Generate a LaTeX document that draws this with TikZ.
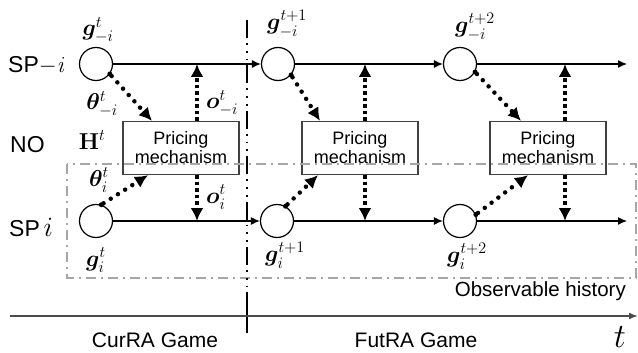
\RequirePackage{fix-cm}
\documentclass[tikz,border=0pt]{standalone}
\usepackage[no-math]{fontspec}
\setmainfont{Liberation Sans}
\usepackage{amsmath,bm}
\usetikzlibrary{arrows.meta}

\begin{document}
\begin{tikzpicture}[x=1pt,y=-1pt,
  lbl/.style={font=\fontsize{23}{25}\selectfont,inner sep=0},
  game/.style={font=\fontsize{21}{23}\selectfont,inner sep=0},
  mth/.style={font=\fontsize{23}{25}\selectfont,inner sep=0},
  st/.style={circle,draw,line width=1.2pt,minimum size=33pt,inner sep=0},
  pm/.style={draw=black!75,fill=white,line width=1.3pt,minimum width=116pt,
    minimum height=53pt,align=center,inner sep=0,
    font=\fontsize{18}{19}\selectfont},
  flow/.style={line width=1.2pt,-{Latex[length=9pt,width=8pt]}},
  vdot/.style={line width=4pt,dash pattern=on 3.5pt off 3pt,
    -{Latex[length=13pt,width=13pt]}},
  ddot/.style={line width=4.5pt,line cap=round,dash pattern=on 0pt off 8.5pt,
    -{Latex[length=13pt,width=13pt]}},
  startdot/.style={circle,fill,inner sep=0,minimum size=5pt},
  sep/.style={line width=2pt,dash pattern=on 18pt off 5pt on 1.8pt off 6pt on 1.8pt off 6pt on 1.8pt off 5pt},
  obs/.style={draw=black!35,line width=1.6pt,dash pattern=on 10pt off 5pt on 2pt off 5pt},
]
\useasboundingbox (0,0) rectangle (638,353);

% states of the two service providers
\node[st] (a1) at (96,64) {};
\node[st] (a2) at (278,64) {};
\node[st] (a3) at (460,64) {};
\node[st] (b1) at (96,221) {};
\node[st] (b2) at (277,221) {};
\node[st] (b3) at (460,221) {};
\coordinate (aend) at (627,64);
\coordinate (bend) at (627,221);

% pricing mechanisms run by the NO
\node[pm] (p1) at (181,148) {Pricing\\mechanism};
\node[pm] (p2) at (360,148) {Pricing\\mechanism};
\node[pm] (p3) at (548,148) {Pricing\\mechanism};

% state transitions
\draw[flow] (a1) -- (a2);
\draw[flow] (a2) -- (a3);
\draw[flow] (a3) -- (aend);
\draw[flow] (b1) -- (b2);
\draw[flow] (b2) -- (b3);
\draw[flow] (b3) -- (bend);

% bids from the states into the mechanisms
\foreach \s/\p/\dx/\ang in {a1/p1/-29/-36, a2/p2/-40/-40, a3/p3/-27/-28}{
  \node[startdot] (\s d) at (\s.\ang) {};
  \draw[ddot] (\s d) -- ([xshift=\dx pt]\p.north);
}
\foreach \s/\p/\dx/\ang in {b1/p1/-33/72, b2/p2/-42/60, b3/p3/-20/22}{
  \node[startdot] (\s d) at (\s.\ang) {};
  \draw[ddot] (\s d) -- ([xshift=\dx pt]\p.south);
}

% outcomes returned to the providers
\foreach \p/\x in {p1/197, p2/365, p3/565}{
  \coordinate (\p up) at (\x,64);
  \coordinate (\p dn) at (\x,221);
  \draw[vdot] (\p.north -| \p up) -- (\p up);
  \draw[vdot] (\p.south -| \p dn) -- (\p dn);
}

% row labels
\node[lbl,anchor=west] (lsp) at (8,65) {SP$-\mathit{i}$};
\node[lbl,anchor=west] (lno) at (10,145) {NO};
\node[lbl,anchor=west] (lspi) at (9,227) {SP\,{\fontsize{28}{28}\selectfont$i$}};

% math labels
\node[mth] (ga1) at (98,30) {$\bm{g}^t_{-i}$};
\node[mth] (ga2) at (287,24) {$\bm{g}^{t+1}_{-i}$};
\node[mth] (ga3) at (475,27) {$\bm{g}^{t+2}_{-i}$};
\node[mth] (gb1) at (96,260) {$\bm{g}^t_{i}$};
\node[mth] (gb2) at (285,255) {$\bm{g}^{t+1}_{i}$};
\node[mth] (gb3) at (467,256) {$\bm{g}^{t+2}_{i}$};
\node[mth] (th1) at (102,104) {$\bm{\theta}^t_{-i}$};
\node[mth] (th2) at (99,180) {$\bm{\theta}^t_{i}$};
\node[mth] (o1) at (222,103) {$\bm{o}^t_{-i}$};
\node[mth] (o2) at (216,197) {$\bm{o}^t_{i}$};
\node[mth] (H) at (92,140) {$\mathbf{H}^t$};

% observable history
\node[obs,draw=none,minimum width=567pt,minimum height=112pt,inner sep=0] (oh) at (351.5,221) {};
\draw[obs] (oh.north west) rectangle (oh.south east);
\node[font=\fontsize{20.5}{22}\selectfont,anchor=east,inner sep=0] (ohl) at (626,291) {Observable history};

% separation between current and future rounds
\coordinate (st) at (247,20);
\coordinate (sb) at (247,310);
\coordinate (sb2) at (247,333);
\draw[sep] (st) -- (sb);
\draw[line width=2pt] (sb) -- (sb2);

% time axis
\coordinate (t0) at (10,316);
\coordinate (t1) at (638,316);
\draw[line width=1.6pt,draw=black!70,-{Latex[length=9pt,width=7pt]}] (t0) -- (t1);
\node[font=\fontsize{34}{34}\selectfont,inner sep=0] (tl) at (620,337) {$t$};
\node[game] (cur) at (155,340) {CurRA Game};
\node[game] (fut) at (416,340) {FutRA Game};
\end{tikzpicture}
\end{document}
